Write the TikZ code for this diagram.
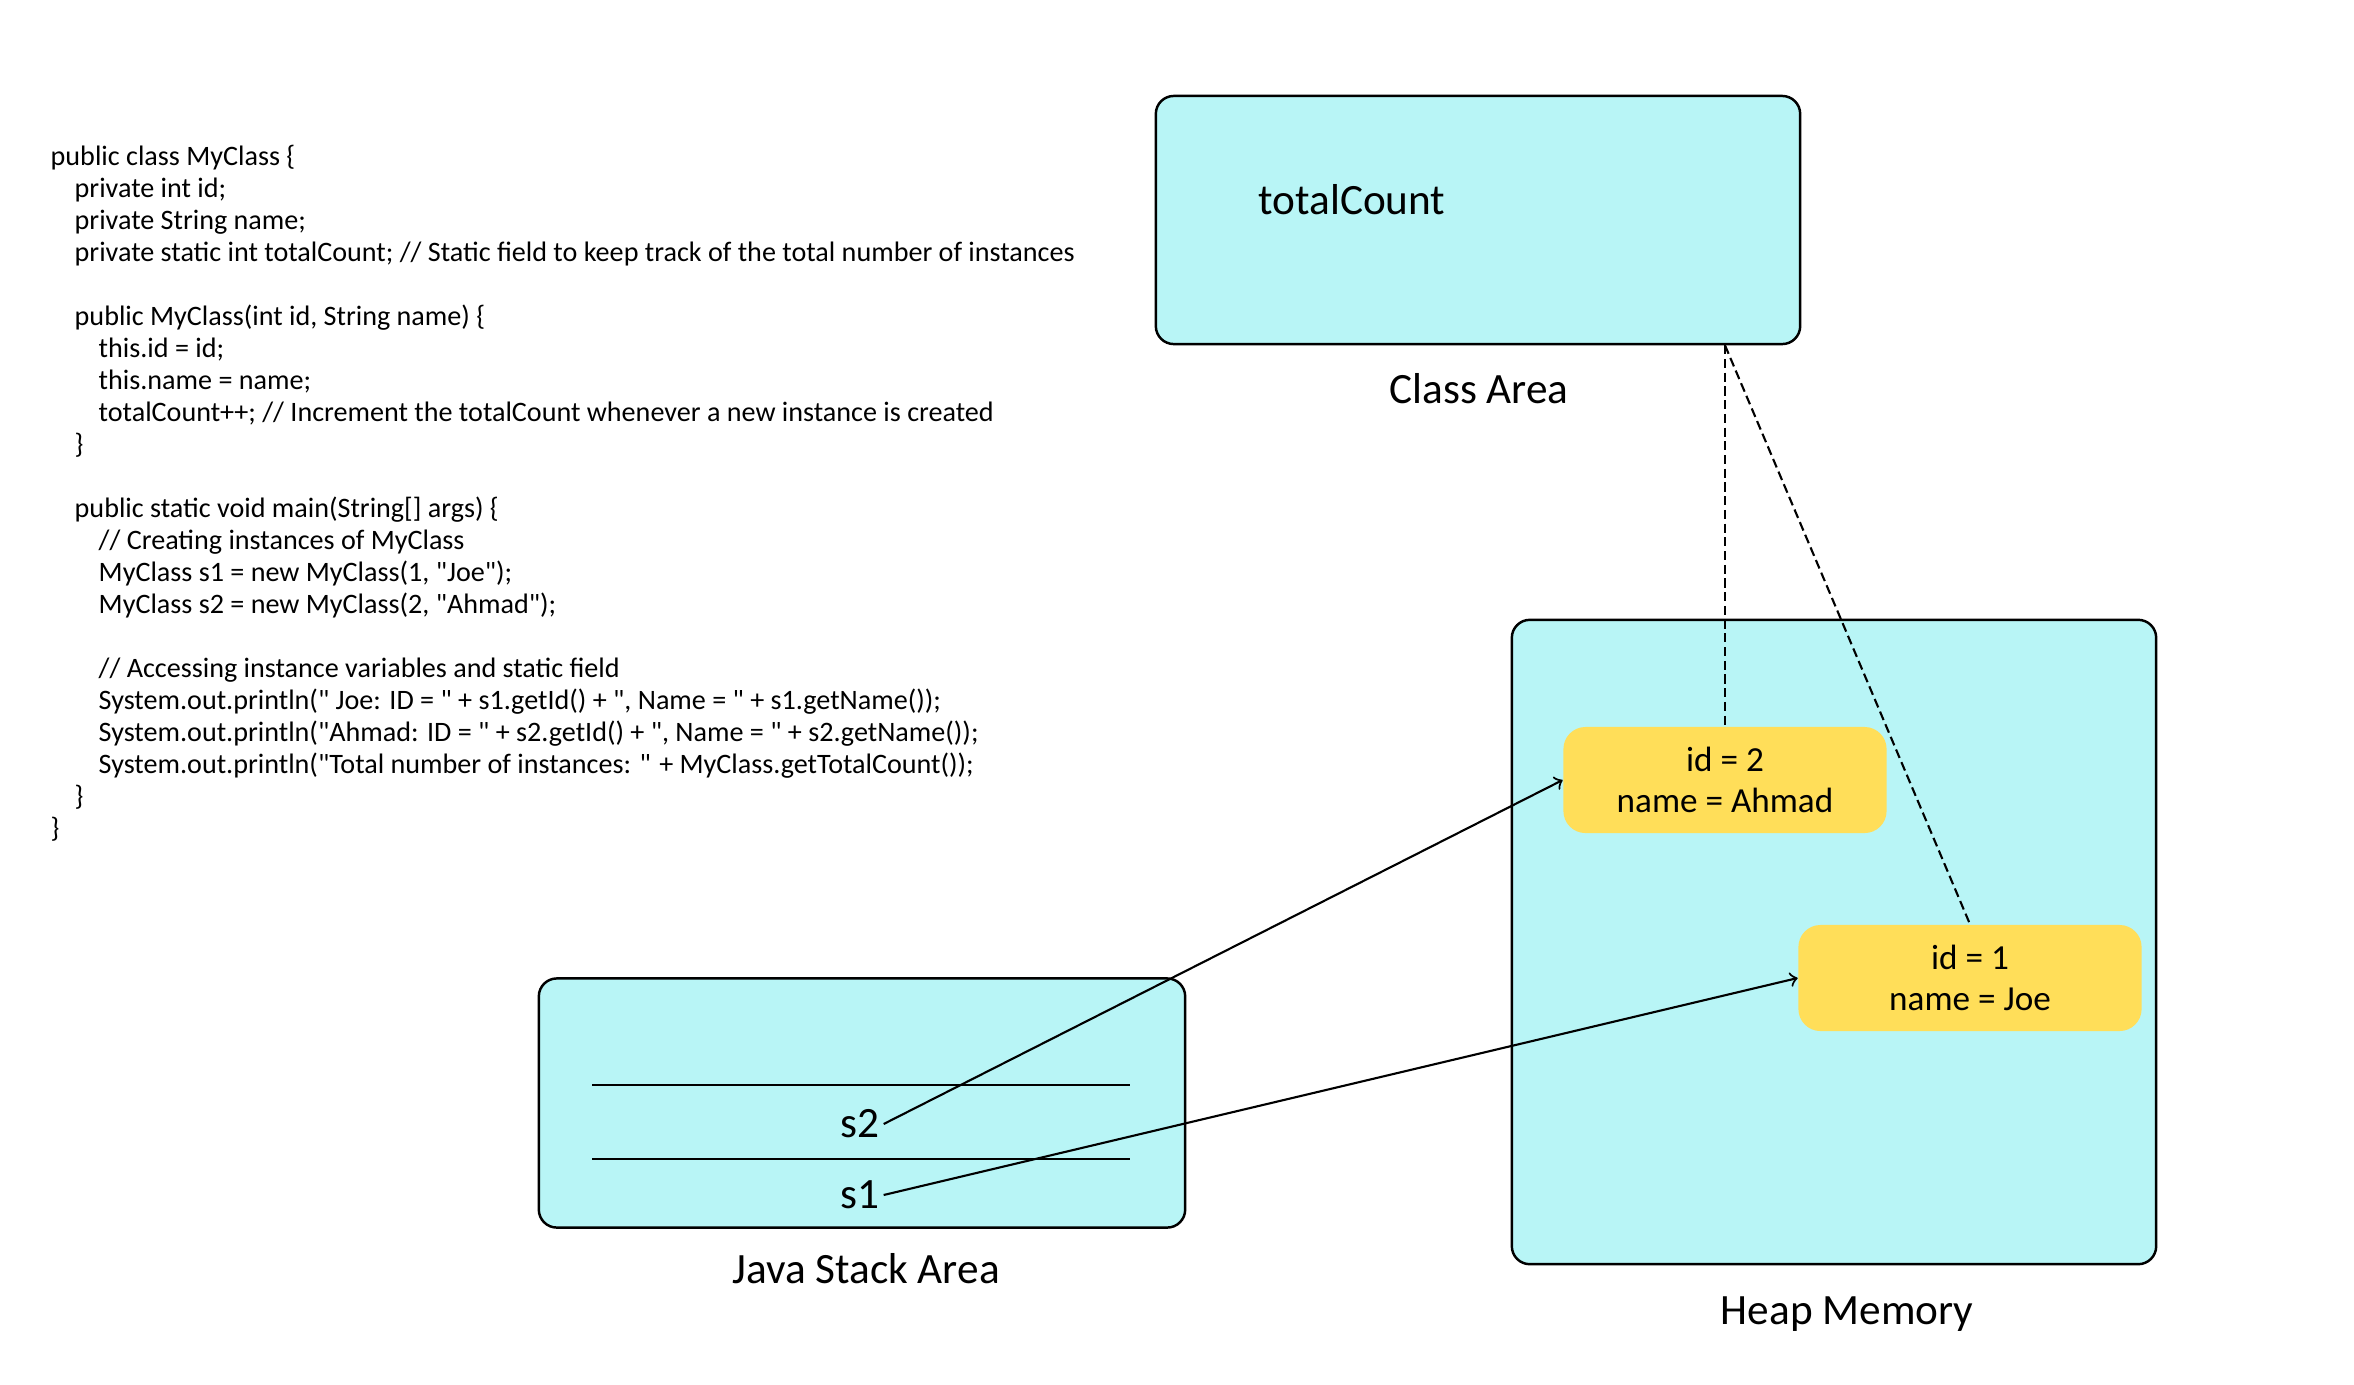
\documentclass[tikz,border=0pt]{standalone}
\usepackage{fontspec}
\setmainfont{Carlito}

\definecolor{areafill}{HTML}{B8F5F6}
\definecolor{objfill}{HTML}{FFDE59}
\newcommand{\ind}{\hspace*{0.24cm}}
\newcommand{\qq}{\textquotedbl}

\begin{document}
\begin{tikzpicture}
  [x=0.01cm, y=-0.01cm,
    AreaBox/.style={rectangle, rounded corners=0.18cm, draw=black, fill=areafill, line width=0.7pt},
    ObjBox/.style={rectangle, rounded corners=0.22cm, fill=objfill, align=center, minimum height=1.06cm, font=\fontsize{10}{11.6}\selectfont},
    AreaLabel/.style={font=\fontsize{12.3}{14}\selectfont},
    RefArrow/.style={->, semithick},
    StaticLink/.style={semithick, dash pattern=on 2.6pt off 1.3pt}]
    \useasboundingbox (0,0) rectangle (2354,1384);
    \node [anchor=north west, inner sep=0pt, align=left, font=\fontsize{8}{9.1}\selectfont] (code) at (50,144)
    {public class MyClass \{\\
     \ind private int id;\\
     \ind private String name;\\
     \ind private static int totalCount; // Static field to keep track of the total number of instances\\
     \mbox{}\\
     \ind public MyClass(int id, String name) \{\\
     \ind\ind this.id = id;\\
     \ind\ind this.name = name;\\
     \ind\ind totalCount++; // Increment the totalCount whenever a new instance is created\\
     \ind \}\\
     \mbox{}\\
     \ind public static void main(String[] args) \{\\
     \ind\ind // Creating instances of MyClass\\
     \ind\ind MyClass s1 = new MyClass(1, \qq Joe\qq);\\
     \ind\ind MyClass s2 = new MyClass(2, \qq Ahmad\qq);\\
     \mbox{}\\
     \ind\ind // Accessing instance variables and static field\\
     \ind\ind System.out.println(\qq{} Joe: ID = \qq{} + s1.getId() + \qq, Name = \qq{} + s1.getName());\\
     \ind\ind System.out.println(\qq Ahmad: ID = \qq{} + s2.getId() + \qq, Name = \qq{} + s2.getName());\\
     \ind\ind System.out.println(\qq Total number of instances: \qq{} + MyClass.getTotalCount());\\
     \ind \}\\
     \}};
    % class area
    \node [AreaBox, minimum width=6.44cm, minimum height=2.48cm] (cls) at (1478,220) {};
    \node [AreaLabel] (total) at (1352,200) {totalCount};
    \node [AreaLabel] (clsLabel) at (1479,389) {Class Area};
    % heap
    \node [AreaBox, minimum width=6.44cm, minimum height=6.44cm] (heap) at (1834,942) {};
    \node [AreaLabel] (heapLabel) at (1847,1314) {Heap Memory};
    \node [ObjBox, minimum width=3.23cm] (id2) at (1725,780) {id = 2\\name = Ahmad};
    \node [ObjBox, minimum width=3.43cm] (id1) at (1970,978) {id = 1\\name = Joe};
    % stack
    \node [AreaBox, minimum width=6.46cm, minimum height=2.49cm] (stack) at (862,1103) {};
    \node [AreaLabel] (stackLabel) at (866,1269) {Java Stack Area};
    \draw [line width=0.7pt] (592,1085) -- (1130,1085);
    \draw [line width=0.7pt] (592,1159) -- (1130,1159);
    \node [AreaLabel, inner sep=1pt] (s2) at (860,1124) {s2};
    \node [AreaLabel, inner sep=1pt] (s1) at (860,1195) {s1};
    % references
    \draw [RefArrow] (s2.east) -- (id2.west);
    \draw [RefArrow] (s1.east) -- (id1.west);
    \coordinate (tcPoint) at (id2.north |- cls.south);
    \draw [StaticLink] (tcPoint) -- (id2.north);
    \draw [StaticLink] (tcPoint) -- (id1.north);
\end{tikzpicture}
\end{document}
